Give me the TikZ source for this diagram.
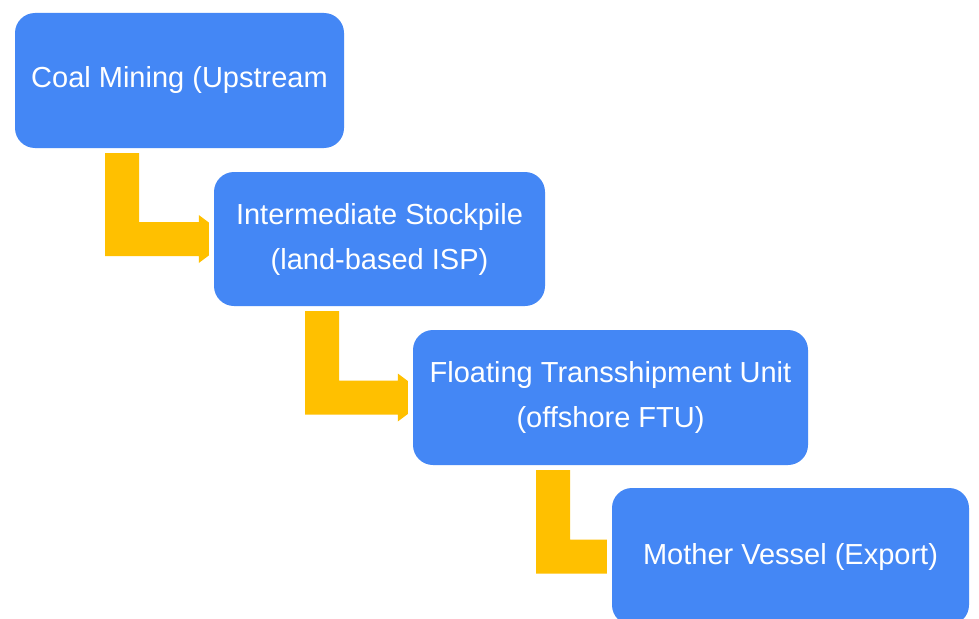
\documentclass[tikz,border=0pt]{standalone}
\usepackage{fontspec}
\setmainfont{Liberation Sans}
\usetikzlibrary{calc}
\definecolor{boxblue}{HTML}{4487F5}
\definecolor{arrowyellow}{HTML}{FFC000}
\tikzset{
  stepbox/.style={fill=boxblue, rounded corners=20pt, inner sep=0pt, text=white, align=center,
    font=\fontsize{29}{45}\selectfont},
  bentarrow/.style={fill=arrowyellow}
}
\begin{document}
\begin{tikzpicture}[x=1pt,y=1pt]
\clip (0,0) rectangle (979,-618);
\fill[white] (0,0) rectangle (979,-618);
\node[stepbox, minimum width=329pt, minimum height=135pt] (a) at (179.5,-80.5) {Coal Mining (Upstream};
\node[stepbox, minimum width=331pt, minimum height=134pt] (b) at (379.5,-239) {Intermediate Stockpile\\(land-based ISP)};
\node[stepbox, minimum width=395pt, minimum height=135pt] (c) at (610.5,-397.5) {Floating Transshipment Unit\\(offshore FTU)};
\node[stepbox, minimum width=357pt, minimum height=137pt] (d) at (790.5,-556.5) {Mother Vessel (Export)};
% arrows
\foreach \p/\q in {a/b, b/c}{
  \fill[bentarrow] ($(\p.south)+(-74.5,-5)$) -- ($(\p.south)+(-40.5,-5)$) |- ($(\q.west)+(-15,17)$)
    -- ($(\q.west)+(-15,24)$) -- ($(\q.west)+(-5,16.5)$) -- ($(\q.west)+(-5,-16.5)$)
    -- ($(\q.west)+(-15,-24)$) -- ($(\q.west)+(-15,-17)$) -| cycle;
}
\fill[bentarrow] ($(c.south)+(-74.5,-5)$) -- ($(c.south)+(-40.5,-5)$) |- ($(d.west)+(-5,17)$)
  -- ($(d.west)+(-5,-17)$) -| cycle;
\end{tikzpicture}
\end{document}
